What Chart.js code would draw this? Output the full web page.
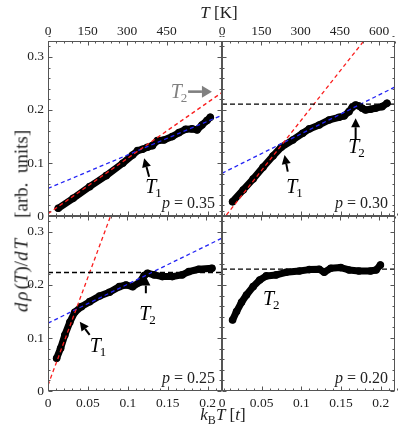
<!DOCTYPE html>
<html><head><meta charset="utf-8">
<script src="https://cdn.jsdelivr.net/npm/chart.js@4.4.1/dist/chart.umd.min.js"></script>
<style>
html,body{margin:0;padding:0;background:#fff;}
#wrap{position:relative;width:399px;height:430px;overflow:hidden;font-family:'Liberation Serif',serif;color:#222;}
canvas{position:absolute;}
.t{position:absolute;white-space:nowrap;transform:translate(-50%,-50%);line-height:1;}
.sub{font-size:12px;position:relative;top:4px;}
</style></head><body>
<div id="wrap">
<canvas id="cTL" width="232" height="226" style="left:0;top:0;width:232px;height:226px"></canvas>
<canvas id="cTR" width="187" height="226" style="left:212px;top:0;width:187px;height:226px"></canvas>
<canvas id="cBL" width="232" height="224" style="left:0;top:206px;width:232px;height:224px"></canvas>
<canvas id="cBR" width="187" height="224" style="left:212px;top:206px;width:187px;height:224px"></canvas>
<div class="t" style="left:219px;top:12px;font-size:17px"><i>T</i> [K]</div>
<div class="t" style="left:223px;top:414px;font-size:17px"><i>k</i><span class="sub">B</span><i>T</i> [<i>t</i>]</div>
<div class="t" style="left:21px;top:221px;font-size:19px;transform:translate(-50%,-50%) rotate(-90deg)"><i style="letter-spacing:2px">dρ</i>(<i>T</i>)/<i style="letter-spacing:2px">dT</i>&nbsp;&nbsp;&nbsp;&nbsp;[arb.&nbsp;&nbsp;units]</div>
</div>
<script>
// ---- data: p = 0.35 (top left)
const kT_p35 = [0.0128,0.0315,0.0522,0.0729,0.0936,0.106,0.1122,0.1184,0.1246,0.1308,0.137,0.1453,0.1557,0.164,0.1723,0.1805,0.1867,0.1929,0.1991,0.2033];
const drho_p35 = [0.0145,0.0333,0.0553,0.0761,0.0994,0.115,0.1233,0.1258,0.1296,0.1327,0.1421,0.1434,0.1497,0.1572,0.1635,0.1642,0.1623,0.1717,0.1799,0.1862];
// ---- data: p = 0.30 (top right)
const kT_p30 = [0.0133,0.0267,0.0392,0.0517,0.0642,0.0746,0.0892,0.1017,0.11,0.1225,0.135,0.1475,0.1538,0.16,0.1642,0.1683,0.1725,0.1767,0.1808,0.1871,0.1933,0.2017,0.2079];
const drho_p30 = [0.027,0.0491,0.0698,0.0918,0.1132,0.1296,0.1434,0.156,0.1642,0.1717,0.1811,0.1862,0.1887,0.1968,0.2051,0.2094,0.2075,0.2032,0.2,0.2013,0.2032,0.2062,0.2126];
// ---- data: p = 0.25 (bottom left)
const kT_p25 = [0.0108,0.0158,0.0211,0.0273,0.0335,0.0419,0.0522,0.0646,0.077,0.0894,0.0977,0.106,0.1143,0.1205,0.1246,0.1329,0.1433,0.1557,0.1681,0.1764,0.1888,0.2054];
const drho_p25 = [0.0617,0.0806,0.1057,0.1296,0.1485,0.1591,0.1685,0.1792,0.1862,0.1968,0.2,0.1968,0.2044,0.2176,0.2221,0.2189,0.2157,0.2157,0.2189,0.2251,0.2296,0.2315];
// ---- data: p = 0.20 (bottom right)
const kT_p20 = [0.0133,0.0183,0.0246,0.0308,0.0392,0.0475,0.0558,0.0683,0.0808,0.0975,0.11,0.1225,0.1288,0.1371,0.1496,0.16,0.1725,0.1871,0.1942,0.1996];
const drho_p20 = [0.134,0.1497,0.1673,0.1811,0.1968,0.2094,0.217,0.2189,0.2239,0.2264,0.2289,0.2296,0.2239,0.2315,0.2327,0.2283,0.2264,0.2264,0.2283,0.2377];
// ---- fitted straight lines (values at fitK ends)
const fitK = [0, 0.22];
const red_p35 = [0.0044, 0.235];
const blue_p35 = [0.052, 0.1913];
const red_p30 = [-0.0086, 0.4085];
const blue_p30 = [0.0805, 0.2448];
const flat_p30 = [0.211, 0.211];
const red_p25 = [0.011, 0.906];
const blue_p25 = [0.128, 0.2897];
const flat_p25 = [0.2235, 0.2235];
const flat_p20 = [0.230, 0.230];
// ---- ticks
const kTTicks = [0, 0.05, 0.1, 0.15, 0.2];
const kelvinTicksL = [0, 150, 300, 450];
const kelvinTicksR = [0, 150, 300, 450, 600];
const yTicks = [0, 0.1, 0.2, 0.3];
const kTMinor = 0.01, yMinor = 0.02, kelvinMinor = 30;
const kelvinPerT = 3030;
const kTMax = 0.218, yMax = 0.33;

const FONT = 'Liberation Serif';
const RED = 'rgb(250,30,30)', BLUE = 'rgb(35,35,245)', BLACK = '#000';

function zeroPad(s){ s.paddingLeft = 0; s.paddingRight = 0; s.paddingTop = 0; s.paddingBottom = 0; }
function fmtK(v){ return v === 0 ? '0' : String(Math.round(v*100)/100); }
function pts(xs, ys){ return xs.map((x,i)=>({x:x, y:ys[i]})); }

function drawArrow(ctx, x1, y1, x2, y2, color, w, hl, hw){
  const ang = Math.atan2(y2-y1, x2-x1);
  const bx = x2 - hl*Math.cos(ang), by = y2 - hl*Math.sin(ang);
  ctx.strokeStyle = color; ctx.fillStyle = color; ctx.lineWidth = w;
  ctx.beginPath(); ctx.moveTo(x1,y1); ctx.lineTo(bx,by); ctx.stroke();
  ctx.beginPath();
  ctx.moveTo(x2,y2);
  ctx.lineTo(bx + hw*Math.sin(ang), by - hw*Math.cos(ang));
  ctx.lineTo(bx - hw*Math.sin(ang), by + hw*Math.cos(ang));
  ctx.closePath(); ctx.fill();
}

function framePlugin(notes){
  return {
    id: 'frameNotes',
    afterDatasetsDraw(chart){
      const {ctx, chartArea:a, scales} = chart;
      const xs = scales.x, ys = scales.y, x2 = scales.x2;
      ctx.save();
      ctx.strokeStyle = '#555'; ctx.lineWidth = 1;
      ctx.beginPath();
      const L = Math.round(a.left)+0.5, R = Math.round(a.right)-0.5, T = Math.round(a.top)+0.5, B = Math.round(a.bottom)-0.5;
      const nx = Math.round(kTMax/kTMinor);
      for (let i=0;i<=nx;i++){
        const px = Math.round(xs.getPixelForValue(i*kTMinor))+0.5;
        const len = (i%5===0)?4:2;
        ctx.moveTo(px,B); ctx.lineTo(px,B-len);
      }
      const nK = Math.floor(x2.max/kelvinMinor);
      for (let i=0;i<=nK;i++){
        const px = Math.round(x2.getPixelForValue(i*kelvinMinor))+0.5;
        const len = (i%5===0)?4:2;
        ctx.moveTo(px,T); ctx.lineTo(px,T+len);
      }
      const ny = Math.round(yMax/yMinor);
      for (let i=0;i<=ny;i++){
        const py = Math.round(ys.getPixelForValue(i*yMinor))+0.5;
        const len = (i%5===0)?4:2;
        ctx.moveTo(L,py); ctx.lineTo(L+len,py);
        ctx.moveTo(R,py); ctx.lineTo(R-len,py);
      }
      ctx.stroke();
      ctx.strokeRect(L, T, R-L, B-T);
      ctx.restore();
    },
    afterDraw(chart){
      const {ctx, chartArea:a, scales:{x, y}} = chart;
      ctx.save();
      (notes.arrows||[]).forEach(ar=>{
        drawArrow(ctx, x.getPixelForValue(ar.from[0]), y.getPixelForValue(ar.from[1]),
                  x.getPixelForValue(ar.to[0]), y.getPixelForValue(ar.to[1]),
                  ar.color||'#000', ar.w||2, ar.hl||9, ar.hw||4.5);
      });
      (notes.labels||[]).forEach(l=>{
        const px = x.getPixelForValue(l.k), py = y.getPixelForValue(l.v);
        ctx.fillStyle = l.color||'#000';
        ctx.textBaseline = 'alphabetic'; ctx.textAlign = 'left';
        ctx.font = 'italic 20px "'+FONT+'"';
        ctx.fillText('T', px, py);
        const w = ctx.measureText('T').width;
        ctx.font = '13px "'+FONT+'"';
        ctx.fillText(l.sub, px + w - 1, py + 4);
      });
      // p label
      ctx.fillStyle = '#222';
      ctx.textBaseline = 'alphabetic'; ctx.textAlign = 'left';
      ctx.font = 'italic 16px "'+FONT+'"';
      const wp = ctx.measureText('p').width;
      ctx.font = '16px "'+FONT+'"';
      const rest = ' = ' + notes.p;
      const wr = ctx.measureText(rest).width;
      const x0 = a.right - 7 - wp - wr, yb = a.bottom - 8;
      ctx.font = 'italic 16px "'+FONT+'"'; ctx.fillText('p', x0, yb);
      ctx.font = '16px "'+FONT+'"'; ctx.fillText(rest, x0 + wp, yb);
      ctx.restore();
    }
  };
}

function makePanel(id, c){
  const datasets = [];
  c.fits.forEach(f=>{
    datasets.push({data: pts(fitK, f.y), borderColor: f.color, borderWidth: 1.3, borderDash: f.dash,
      pointRadius: 0, fill:false, order: 1, clip: 0});
  });
  datasets.push({data: pts(c.k, c.v), borderColor: BLACK, backgroundColor: BLACK, borderWidth: 7,
    borderJoinStyle:'round', borderCapStyle:'round', pointRadius: 3.8, pointBorderWidth: 0,
    pointBackgroundColor: BLACK, fill:false, order: 2});
  const tickFont = {family: FONT, size: 13.5};
  new Chart(document.getElementById(id), {
    type: 'line',
    data: {datasets},
    options: {
      responsive: false, animation: false, devicePixelRatio: 1,
      layout: {padding: c.pad},
      plugins: {legend:{display:false}, tooltip:{enabled:false}},
      scales: {
        x: {type:'linear', position:'bottom', min:0, max:kTMax, display:c.bottom,
          afterBuildTicks: s=>{ s.ticks = kTTicks.map(v=>({value:v})); },
          afterFit: s=>{ if (c.bottom) s.height = 39; zeroPad(s); },
          ticks:{autoSkip:false, maxRotation:0, minRotation:0, padding:4, color:'#222', font:tickFont, callback: v=>fmtK(v)},
          grid:{display:false, drawTicks:false}, border:{display:false}},
        x2: {type:'linear', position:'top', min:0, max:kTMax*kelvinPerT, display:c.top,
          afterBuildTicks: s=>{ s.ticks = c.kelvin.map(v=>({value:v})); },
          afterFit: s=>{ if (c.top) s.height = 19; zeroPad(s); },
          ticks:{autoSkip:false, maxRotation:0, minRotation:0, padding:1, color:'#222', font:tickFont, callback: v=>String(v)},
          grid:{display:false, drawTicks:false}, border:{display:false}},
        y: {type:'linear', position:'left', min:0, max:yMax, display:c.left,
          afterBuildTicks: s=>{ s.ticks = yTicks.map(v=>({value:v})); },
          afterFit: s=>{ if (c.left) s.width = 48; zeroPad(s); },
          ticks:{autoSkip:false, padding:4, color:'#222', font:tickFont, callback: v=>fmtK(v)},
          grid:{display:false, drawTicks:false}, border:{display:false}}
      }
    },
    plugins: [framePlugin(c.notes)]
  });
}

makePanel('cTL', {k:kT_p35, v:drho_p35, left:true, top:true, bottom:false, kelvin:kelvinTicksL,
  pad:{left:0, top:22, right:10, bottom:10},
  fits:[{y:red_p35, color:RED, dash:[4,3]}, {y:blue_p35, color:BLUE, dash:[4,3]}],
  notes:{p:'0.35',
    labels:[{k:0.1217, v:0.0434, sub:'1'}, {k:0.1537, v:0.222, sub:'2', color:'#808080'}],
    arrows:[{from:[0.1267,0.0742], to:[0.1205,0.1089]},
            {from:[0.1755,0.2345], to:[0.2054,0.2345], color:'#808080', w:2.6, hl:10, hw:6}]}});

makePanel('cTR', {k:kT_p30, v:drho_p30, left:false, top:true, bottom:false, kelvin:kelvinTicksR,
  pad:{left:10, top:22, right:2, bottom:10},
  fits:[{y:flat_p30, color:BLACK, dash:[5,3]}, {y:red_p30, color:RED, dash:[4,3]}, {y:blue_p30, color:BLUE, dash:[4,3]}],
  notes:{p:'0.30',
    labels:[{k:0.0809, v:0.0428, sub:'1'}, {k:0.159, v:0.118, sub:'2'}],
    arrows:[{from:[0.0829,0.0836], to:[0.0788,0.115]}, {from:[0.1684,0.1434], to:[0.1684,0.1843]}]}});

makePanel('cBL', {k:kT_p25, v:drho_p25, left:true, top:false, bottom:true, kelvin:kelvinTicksL,
  pad:{left:0, top:10, right:10, bottom:0},
  fits:[{y:flat_p25, color:BLACK, dash:[5,3]}, {y:red_p25, color:RED, dash:[4,3]}, {y:blue_p25, color:BLUE, dash:[4,3]}],
  notes:{p:'0.25',
    labels:[{k:0.0522, v:0.0742, sub:'1'}, {k:0.1143, v:0.134, sub:'2'}],
    arrows:[{from:[0.0522,0.1057], to:[0.0398,0.1308]}, {from:[0.1226,0.1843], to:[0.1226,0.2157]}]}});

makePanel('cBR', {k:kT_p20, v:drho_p20, left:false, top:false, bottom:true, kelvin:kelvinTicksR,
  pad:{left:10, top:10, right:2, bottom:0},
  fits:[{y:flat_p20, color:BLACK, dash:[5,3]}],
  notes:{p:'0.20', labels:[{k:0.0516, v:0.1623, sub:'2'}], arrows:[]}});
</script>
</body></html>
